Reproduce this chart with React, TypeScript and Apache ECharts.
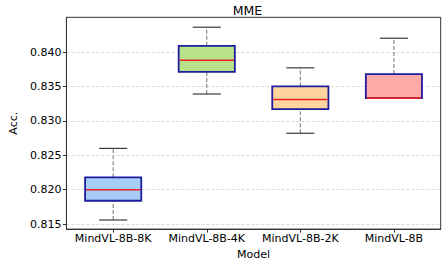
import React, { useEffect, useRef } from "react";
import * as echarts from "echarts";

const categories = ["MindVL-8B-8K", "MindVL-8B-4K", "MindVL-8B-2K", "MindVL-8B"];
const lows = [0.8156, 0.8339, 0.8282, 0.8333];
const q1s = [0.8184, 0.8371, 0.8317, 0.8333];
const medians = [0.82, 0.8388, 0.8331, 0.8333];
const q3s = [0.8218, 0.8409, 0.835, 0.8368];
const highs = [0.826, 0.8436, 0.8377, 0.842];
const boxColors = ["#a7cdf7", "#b7e28a", "#ffd59f", "#ffa9a6"];
const yTicks = [0.815, 0.82, 0.825, 0.83, 0.835, 0.84];

const FONT = "DejaVu Sans";

export default function App() {
  const ref = useRef<HTMLDivElement>(null);
  useEffect(() => {
    if (!ref.current) return;
    const chart = echarts.init(ref.current, undefined, { renderer: "svg" });
    const data = categories.map((_, i) => [i, lows[i], q1s[i], medians[i], q3s[i], highs[i]]);
    const renderItem = (params: any, api: any) => {
      const x = api.value(0);
      const idx = params.dataIndex;
      const band = api.size([1, 0])[0];
      const bw = band * 0.6;
      const cw = band * 0.3;
      const pLow = api.coord([x, api.value(1)]);
      const pQ1 = api.coord([x, api.value(2)]);
      const pMed = api.coord([x, api.value(3)]);
      const pQ3 = api.coord([x, api.value(4)]);
      const pHigh = api.coord([x, api.value(5)]);
      const cx = pLow[0];
      const whiskerStyle = { stroke: "#808080", lineWidth: 1.1, lineDash: [4, 2] };
      const capStyle = { stroke: "#3a3a3a", lineWidth: 1.2 };
      return {
        type: "group",
        children: [
          { type: "line", shape: { x1: cx, y1: pQ3[1], x2: cx, y2: pHigh[1] }, style: whiskerStyle },
          { type: "line", shape: { x1: cx, y1: pLow[1], x2: cx, y2: pQ1[1] }, style: whiskerStyle },
          { type: "line", shape: { x1: cx - cw / 2, y1: pHigh[1], x2: cx + cw / 2, y2: pHigh[1] }, style: capStyle },
          { type: "line", shape: { x1: cx - cw / 2, y1: pLow[1], x2: cx + cw / 2, y2: pLow[1] }, style: capStyle },
          {
            type: "rect",
            shape: { x: cx - bw / 2, y: pQ3[1], width: bw, height: pQ1[1] - pQ3[1] },
            style: { fill: boxColors[idx], stroke: "#1c1c9c", lineWidth: 1.8 },
          },
          {
            type: "line",
            shape: { x1: cx - bw / 2 + 0.9, y1: pMed[1], x2: cx + bw / 2 - 0.9, y2: pMed[1] },
            style: { stroke: "#e8202a", lineWidth: 1.6 },
          },
        ],
      };
    };
    chart.setOption({
      animation: false,
      textStyle: { fontFamily: FONT },
      title: {
        text: "MME",
        left: 247.5,
        textAlign: "center",
        top: 4,
        padding: 0,
        textStyle: { fontFamily: FONT, fontSize: 12.5, fontWeight: "normal", color: "#000" },
      },
      grid: {
        left: 54.3,
        right: 4.3,
        top: 17.3,
        bottom: 34.3,
        show: true,
        borderColor: "#333",
        borderWidth: 1,
      },
      xAxis: {
        type: "category",
        data: categories,
        boundaryGap: true,
        name: "Model",
        nameLocation: "middle",
        nameGap: 18,
        nameTextStyle: { fontFamily: FONT, fontSize: 11, color: "#000" },
        axisLine: { show: true, lineStyle: { color: "#333", width: 1 } },
        axisTick: { show: true, alignWithLabel: true, length: 3.5, lineStyle: { color: "#333" } },
        axisLabel: { fontFamily: FONT, fontSize: 11, color: "#000", margin: 4, interval: 0 },
        splitLine: { show: false },
      },
      yAxis: {
        type: "value",
        min: 0.81428,
        max: 0.84504,
        name: "Acc.",
        nameLocation: "middle",
        nameGap: 44,
        nameTextStyle: { fontFamily: FONT, fontSize: 11, color: "#000" },
        axisLine: { show: true, lineStyle: { color: "#333", width: 1 } },
        axisTick: { show: true, length: 3.5, lineStyle: { color: "#333" }, customValues: yTicks },
        axisLabel: {
          fontFamily: FONT,
          fontSize: 11,
          color: "#000",
          margin: 5,
          customValues: yTicks,
          formatter: (v: number) => v.toFixed(3),
        },
        splitLine: { show: true, lineStyle: { color: "#d0d0d0", type: [3, 2], width: 0.8 } },
      },
      series: [
        {
          type: "custom",
          renderItem,
          data,
          encode: { x: 0, y: [1, 2, 3, 4, 5] },
          clip: false,
        },
      ],
    });
    return () => chart.dispose();
  }, []);
  return <div ref={ref} style={{ width: 445, height: 265, position: "absolute", left: 0, top: 0 }} />;
}
